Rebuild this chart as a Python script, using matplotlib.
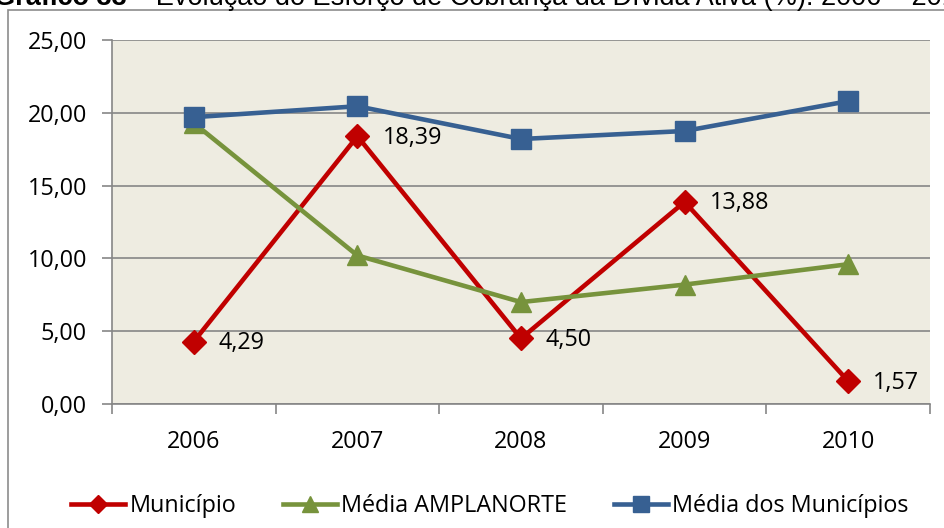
import matplotlib.pyplot as plt
from matplotlib.patches import Rectangle
from matplotlib.ticker import FuncFormatter

anos = ['2006', '2007', '2008', '2009', '2010']
municipio = [4.29, 18.39, 4.50, 13.88, 1.57]
media_amplanorte = [19.3, 10.2, 7.0, 8.2, 9.6]
media_municipios = [19.7, 20.45, 18.2, 18.75, 20.8]

font = 'Open Sans'
fs = 16.8

fig = plt.figure(figsize=(9.44, 5.28), dpi=100)
W, H = 944, 528

# outer chart frame (cut off at right and bottom)
fig.patches.append(Rectangle((8 / W, -0.1), 1.0, 1 - 10 / H + 0.1, transform=fig.transFigure,
                             fill=False, edgecolor='#8c8c8c', linewidth=1.2))

# title, mostly cut at the top
fig.text(127 / W, 1 - 5 / H, 'Gráfico 33', ha='right', va='baseline',
         fontsize=19.5, fontweight='bold', family='Liberation Sans')
fig.text(133 / W, 1 - 5 / H, '– Evolução do Esforço de Cobrança da Dívida Ativa (%): 2006 – 2010',
         ha='left', va='baseline', fontsize=19.5, family='Liberation Sans')

ax = fig.add_axes([112 / W, 1 - 404 / H, 818 / W, 364 / H])
ax.set_facecolor('#EEECE1')
x = range(len(anos))

ax.plot(x, municipio, color='#C00000', lw=3.3, marker='D', ms=12, label='Município', zorder=3)
ax.plot(x, media_amplanorte, color='#77933C', lw=3.3, marker='^', ms=14, label='Média AMPLANORTE', zorder=3)
ax.plot(x, media_municipios, color='#376092', lw=3.3, marker='s', ms=14, label='Média dos Municípios', zorder=3)

for i, v in enumerate(municipio):
    ax.annotate(f'{v:.2f}'.replace('.', ','), (i, v), xytext=(18, -1), textcoords='offset points',
                ha='left', va='center', fontsize=fs, family=font)

ax.set_xlim(-0.5, 4.5)
ax.set_ylim(0, 25)
ax.set_yticks([0, 5, 10, 15, 20, 25])
ax.yaxis.set_major_formatter(FuncFormatter(lambda v, p: f'{v:.2f}'.replace('.', ',')))
ax.set_xticks(list(x))
ax.set_xticklabels(anos)
ax.set_xticks([-0.5, 0.5, 1.5, 2.5, 3.5, 4.5], minor=True)
ax.tick_params(axis='x', which='major', length=0, pad=19)
ax.tick_params(axis='x', which='minor', length=7, color='#868686', width=1.2)
ax.tick_params(axis='y', length=7, color='#868686', width=1.2, pad=11)
for lab in ax.get_xticklabels() + ax.get_yticklabels():
    lab.set_fontsize(fs)
    lab.set_family(font)

ax.grid(axis='y', color='#868686', lw=1.2)
ax.set_axisbelow(True)
for s in ['top', 'right']:
    ax.spines[s].set_visible(False)
for s in ['left', 'bottom']:
    ax.spines[s].set_color('#868686')
    ax.spines[s].set_linewidth(1.2)

fig.legend(loc='center', bbox_to_anchor=(490 / W, 1 - 506 / H), ncol=3, frameon=False,
           handlelength=2.3, handletextpad=0.2, columnspacing=2.0, markerscale=0.8,
           prop={'family': font, 'size': fs})

fig.savefig('out.png', dpi=100)
